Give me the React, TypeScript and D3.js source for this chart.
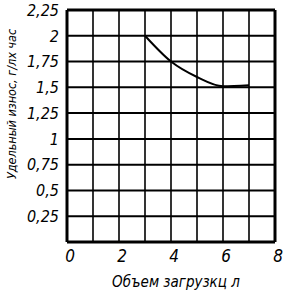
import React from "react";
import * as d3 from "d3";

const xTicks = [0, 2, 4, 6, 8];
const xGrid = [0, 1, 2, 3, 4, 5, 6, 7, 8];
const yGrid = [0, 0.25, 0.5, 0.75, 1, 1.25, 1.5, 1.75, 2, 2.25];
const yTicks = [0.25, 0.5, 0.75, 1, 1.25, 1.5, 1.75, 2, 2.25];
const loadVolume = [3, 4, 5, 6, 7];
const specificWear = [2.0, 1.75, 1.6, 1.51, 1.52];
const xTitle = "Объем  загрузкц  л";
const yTitle = "Удельный износ, г/лх час";

const W = 284;
const H = 294;
const M = { left: 67, right: 9, top: 10, bottom: 52 };
const FONT = "'DejaVu Sans Condensed', 'Liberation Sans Narrow', sans-serif";

const fmt = (v: number) => String(v).replace(".", ",");

export default function App() {
  const x = d3.scaleLinear().domain([0, 8]).range([M.left, W - M.right]);
  const y = d3.scaleLinear().domain([0, 2.25]).range([H - M.bottom, M.top]);
  const data = loadVolume.map((v, i) => [v, specificWear[i]] as [number, number]);
  const line = d3
    .line<[number, number]>()
    .x((d) => x(d[0]))
    .y((d) => y(d[1]))
    .curve(d3.curveMonotoneX);

  return (
    <svg
      width={W}
      height={H}
      style={{ position: "absolute", left: 0, top: 0, background: "#fff" }}
    >
      <rect x={0} y={0} width={W} height={H} fill="#fff" />
      {xGrid.map((v) => (
        <line
          key={"vx" + v}
          x1={x(v)}
          x2={x(v)}
          y1={y(0)}
          y2={y(2.25)}
          stroke="#000"
          strokeWidth={v === 0 || v === 8 ? 3 : 1.6}
        />
      ))}
      {yGrid.map((v) => (
        <line
          key={"hy" + v}
          x1={x(0)}
          x2={x(8)}
          y1={y(v)}
          y2={y(v)}
          stroke="#000"
          strokeWidth={v === 0 || v === 2.25 ? 3 : 2}
        />
      ))}
      <path d={line(data) || ""} fill="none" stroke="#000" strokeWidth={2} />
      {yTicks.map((v) => (
        <text
          key={"ty" + v}
          x={x(0) - 8}
          y={y(v)}
          dy="0.36em"
          textAnchor="end"
          fontFamily={FONT}
          fontStyle="italic"
          fontSize={16}
        >
          {fmt(v)}
        </text>
      ))}
      {xTicks.map((v) => (
        <text
          key={"tx" + v}
          x={x(v) + 3}
          y={y(0) + 14}
          dy="0.36em"
          textAnchor="middle"
          fontFamily={FONT}
          fontStyle="italic"
          fontSize={17}
        >
          {fmt(v)}
        </text>
      ))}
      <text
        x={176}
        y={287}
        textAnchor="middle"
        fontFamily={FONT}
        fontStyle="italic"
        fontSize={15}
      >
        {xTitle}
      </text>
      <text
        transform={`translate(16, 104) rotate(-90)`}
        textAnchor="middle"
        fontFamily={FONT}
        fontStyle="italic"
        fontSize={12.5}
      >
        {yTitle}
      </text>
    </svg>
  );
}
